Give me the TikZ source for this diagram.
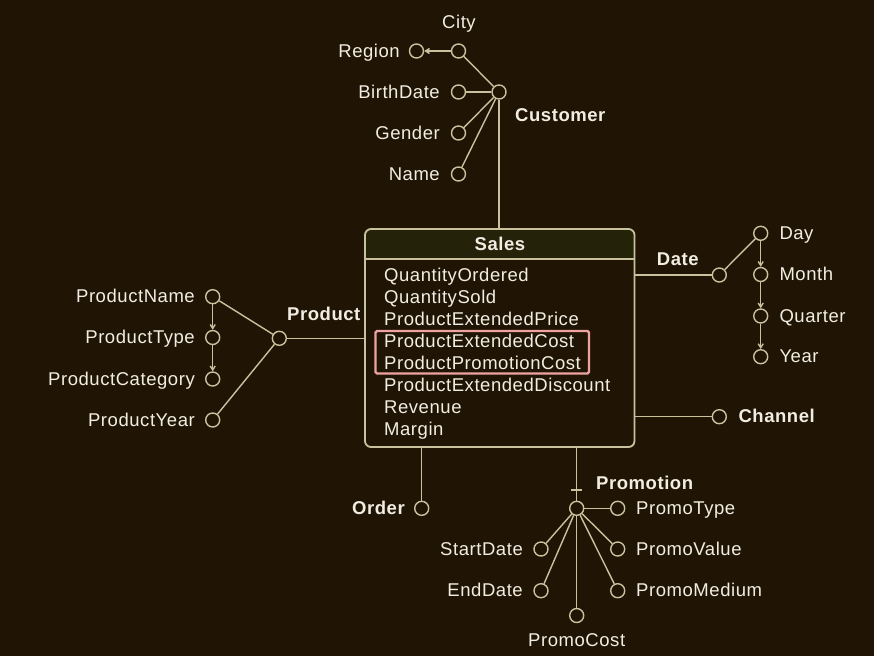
\documentclass[tikz,border=0pt]{standalone}
\usepackage{fontspec}
\setmainfont{Liberation Sans}[LetterSpace=3]
\usetikzlibrary{arrows.meta}
\definecolor{bg}{HTML}{201505}
\definecolor{ln}{HTML}{C9C29F}
\definecolor{tx}{HTML}{F2EDE2}
\definecolor{hdr}{HTML}{25220A}
\definecolor{hl}{HTML}{EEA3A0}
\begin{document}
\begin{tikzpicture}[x=1pt,y=-1pt,
 att/.style={circle,draw=ln,line width=1.4pt,minimum size=14pt,inner sep=0pt},
 lbl/.style={text=tx,font=\fontsize{18.5}{20}\selectfont,inner sep=0pt},
 blbl/.style={text=tx,font=\fontsize{18.5}{20}\selectfont\bfseries,inner sep=0pt},
 con/.style={draw=ln,line width=1.4pt},
 arr/.style={con,-{Straight Barb[length=4pt,width=5pt]}},
 L/.style={anchor=base east, yshift=-6pt},
 R/.style={anchor=base west, yshift=-6pt},
]
\fill[bg] (0,0) rectangle (874,656);
\useasboundingbox (0,0) rectangle (874,656);

% Sales table
\begin{scope}
\clip[rounded corners=6pt] (365,229) rectangle (634.5,447);
\fill[hdr] (365,229) rectangle (634.5,259);
\end{scope}
\draw[ln, line width=1.8pt] (365,259.3) -- (634.5,259.3);
\node[draw=ln, line width=1.8pt, rounded corners=6pt, minimum width=269.5pt, minimum height=218pt, inner sep=0pt] (sales) at (499.75,338) {};
\node[blbl, anchor=base] (salesT) at (500,250) {Sales};
\node[lbl, anchor=base west] (i1) at (384,281) {QuantityOrdered};
\node[lbl, anchor=base west] (i2) at (384,303) {QuantitySold};
\node[lbl, anchor=base west] (i3) at (384,325) {ProductExtendedPrice};
\node[lbl, anchor=base west] (i4) at (384,347) {ProductExtendedCost};
\node[lbl, anchor=base west] (i5) at (384,369) {ProductPromotionCost};
\node[lbl, anchor=base west] (i6) at (384,391) {ProductExtendedDiscount};
\node[lbl, anchor=base west] (i7) at (384,413) {Revenue};
\node[lbl, anchor=base west] (i8) at (384,435) {Margin};
\draw[hl, line width=2.2pt, rounded corners=1.5pt] (375.5,331) rectangle (589,373.5);

% Customer
\node[att] (cust) at (499,92) {};
\node[att] (city) at (458.5,51) {};
\node[att] (region) at (416.5,51) {};
\node[att] (birth) at (458.5,92) {};
\node[att] (gender) at (458.5,133) {};
\node[att] (name) at (458.5,174) {};
\node[lbl, anchor=base] (cityL) at (459,28) {City};
\node[lbl, L] (regionL) at (400,51) {Region};
\node[lbl, L] (birthL) at (440,92) {BirthDate};
\node[lbl, L] (genderL) at (440,133) {Gender};
\node[lbl, L] (nameL) at (440,174) {Name};
\node[blbl, anchor=base west] (custL) at (515,121) {Customer};
\draw[con] (cust) -- (city);
\draw[con] (cust) -- (birth);
\draw[con] (cust) -- (gender);
\draw[con] (cust) -- (name);
\draw[arr] (city) -- (region);
\draw[con] (cust) -- (cust |- sales.north);

% Product
\node[att] (prod) at (279.3,338.3) {};
\node[att] (pname) at (212.7,296.7) {};
\node[att] (ptype) at (212.7,337.5) {};
\node[att] (pcat) at (212.7,379) {};
\node[att] (pyear) at (212.7,420) {};
\node[lbl, L] (pnameL) at (195,296.7) {ProductName};
\node[lbl, L] (ptypeL) at (195,337.5) {ProductType};
\node[lbl, L] (pcatL) at (195,379) {ProductCategory};
\node[lbl, L] (pyearL) at (195,420) {ProductYear};
\node[blbl, anchor=base west] (prodL) at (287,320.7) {Product};
\draw[con] (prod) -- (pname);
\draw[con] (prod) -- (pyear);
\draw[arr] (pname) -- (ptype);
\draw[arr] (ptype) -- (pcat);
\draw[con] (prod) -- (prod -| sales.west);

% Date
\node[att] (date) at (719.3,275) {};
\node[att] (day) at (760.7,233.3) {};
\node[att] (month) at (760.7,274.5) {};
\node[att] (quarter) at (760.7,316) {};
\node[att] (year) at (760.7,356.7) {};
\node[lbl, R] (dayL) at (779.3,233.3) {Day};
\node[lbl, R] (monthL) at (779.3,274.5) {Month};
\node[lbl, R] (quarterL) at (779.3,316) {Quarter};
\node[lbl, R] (yearL) at (779.3,356.7) {Year};
\node[blbl, anchor=base west] (dateL) at (656.7,265) {Date};
\draw[con] (sales.east |- date) -- (date);
\draw[con] (date) -- (day);
\draw[arr] (day) -- (month);
\draw[arr] (month) -- (quarter);
\draw[arr] (quarter) -- (year);

% Channel
\node[att] (chan) at (719.3,416.7) {};
\node[blbl, R] (chanL) at (738.3,416.7) {Channel};
\draw[con] (sales.east |- chan) -- (chan);

% Order
\node[att] (order) at (421.7,508.3) {};
\node[blbl, L] (orderL) at (405,508.3) {Order};
\draw[con] (order |- sales.south) -- (order);

% Promotion
\node[att] (promo) at (576.7,508.3) {};
\coordinate (tick) at (576.7,490);
\node[att] (ptyp) at (617.7,508.3) {};
\node[att] (pval) at (617.7,549) {};
\node[att] (pmed) at (617.7,590.7) {};
\node[att] (start) at (541,549) {};
\node[att] (endd) at (541,590.7) {};
\node[att] (pcost) at (576.7,615.5) {};
\node[blbl, anchor=base west] (promoL) at (596,489.3) {Promotion};
\node[lbl, R] (ptypL) at (636,508.3) {PromoType};
\node[lbl, R] (pvalL) at (636,549) {PromoValue};
\node[lbl, R] (pmedL) at (636,590.7) {PromoMedium};
\node[lbl, L] (startL) at (523,549) {StartDate};
\node[lbl, L] (enddL) at (523,590.7) {EndDate};
\node[lbl, anchor=base] (pcostL) at (576.7,646.7) {PromoCost};
\draw[con] (promo |- sales.south) -- (promo);
\draw[con] ([xshift=-5.5pt]tick) -- ([xshift=5.5pt]tick);
\draw[con] (promo) -- (ptyp);
\draw[con] (promo) -- (pval);
\draw[con] (promo) -- (pmed);
\draw[con] (promo) -- (start);
\draw[con] (promo) -- (endd);
\draw[con] (promo) -- (pcost);
\end{tikzpicture}
\end{document}
